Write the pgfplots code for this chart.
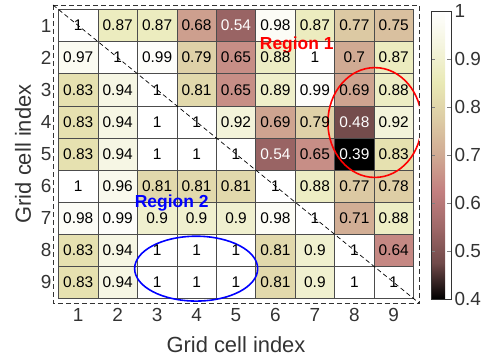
\documentclass[border=0pt]{standalone}
\usepackage{pgfplots}
\usepackage{pgfplotstable}
\pgfplotsset{compat=1.18}
\usepackage{fontspec}
\setmainfont{Liberation Sans}

\pgfplotstableread{
x y C
1 1 1
2 1 0.87
3 1 0.87
4 1 0.68
5 1 0.54
6 1 0.98
7 1 0.87
8 1 0.77
9 1 0.75
1 2 0.97
2 2 1
3 2 0.99
4 2 0.79
5 2 0.65
6 2 0.88
7 2 1
8 2 0.7
9 2 0.87
1 3 0.83
2 3 0.94
3 3 1
4 3 0.81
5 3 0.65
6 3 0.89
7 3 0.99
8 3 0.69
9 3 0.88
1 4 0.83
2 4 0.94
3 4 1
4 4 1
5 4 0.92
6 4 0.69
7 4 0.79
8 4 0.48
9 4 0.92
1 5 0.83
2 5 0.94
3 5 1
4 5 1
5 5 1
6 5 0.54
7 5 0.65
8 5 0.39
9 5 0.83
1 6 1
2 6 0.96
3 6 0.81
4 6 0.81
5 6 0.81
6 6 1
7 6 0.88
8 6 0.77
9 6 0.78
1 7 0.98
2 7 0.99
3 7 0.9
4 7 0.9
5 7 0.9
6 7 0.98
7 7 1
8 7 0.71
9 7 0.88
1 8 0.83
2 8 0.94
3 8 1
4 8 1
5 8 1
6 8 0.81
7 8 0.9
8 8 1
9 8 0.64
1 9 0.83
2 9 0.94
3 9 1
4 9 1
5 9 1
6 9 0.81
7 9 0.9
8 9 1
9 9 1
}\datatable

\begin{document}
\begin{tikzpicture}
\begin{axis}[
  name=main,
  scale only axis, width=366bp, height=298bp,
  xmin=0.36, xmax=9.64, ymin=0.36, ymax=9.64,
  y dir=reverse,
  xtick={1,...,9}, ytick={1,...,9},
  major tick length=0pt,
  axis line style={black!80, line width=0.8pt, dash pattern=on 5pt off 3pt},
  tick label style={font=\fontsize{19}{19}\selectfont, text=black!80},
  xticklabel style={yshift=-2bp},
  yticklabel style={xshift=2bp},
  xlabel={Grid cell index}, ylabel={Grid cell index},
  label style={font=\fontsize{22}{22}\selectfont, text=black!80},
  xlabel style={at={(axis description cs:0.5,0)}, anchor=center, yshift=-42bp},
  ylabel style={at={(axis description cs:0,0.5)}, anchor=center, yshift=30bp},
  /pgf/number format/assume math mode=true,
  colormap={pinkmap}{rgb=(0,0,0) rgb=(0.441,0.289,0.289) rgb=(0.624,0.408,0.408) rgb=(0.764,0.5,0.5) rgb=(0.816,0.667,0.577) rgb=(0.866,0.799,0.645) rgb=(0.913,0.913,0.707) rgb=(0.957,0.957,0.866) rgb=(1,1,1)},
  point meta min=0.4, point meta max=1,
  colorbar,
  colorbar style={
    at={(parent axis.north east)}, anchor=north west,
    xshift=3.5bp, yshift=-6bp,
    width=20bp, height=288bp,
    ytick={0.4,0.5,...,1.0},
    yticklabel style={font=\fontsize{19}{19}\selectfont, text=black!80},
    major tick length=4bp, tick align=inside,
    axis line style={black!80, line width=0.6pt, solid},
    /pgf/number format/assume math mode=true,
  },
]
\addplot[matrix plot*, mesh/cols=9, point meta=explicit, draw=black!70, line width=0.6pt]
  table[x=x, y=y, meta=C] {\datatable};
\addplot[only marks, mark=none, point meta=explicit symbolic,
  nodes near coords={\pgfmathparse{\pgfplotspointmeta<0.6}\ifdim\pgfmathresult pt>0.5pt\color{white}\fi\pgfplotspointmeta},
  every node near coord/.append style={anchor=center, font=\fontsize{15.5}{15.5}\selectfont, text=black},
] table[x=x, y=y, meta=C] {\datatable};
\draw[black, line width=0.7pt, dash pattern=on 4.5pt off 3pt] (axis cs:0.36,0.36) -- (axis cs:9.64,9.64);
\draw[red, line width=1.6pt] (axis cs:8.52,4.02) ellipse [x radius=1.19, y radius=1.71];
\draw[blue, line width=1.6pt] (axis cs:3.99,8.57) ellipse [x radius=1.56, y radius=1.01];
\node[red, font=\bfseries\fontsize{17.5}{17.5}\selectfont] at (axis cs:6.54,1.62) {Region 1};
\node[blue, font=\bfseries\fontsize{17.5}{17.5}\selectfont] at (axis cs:3.37,6.54) {Region 2};
\end{axis}
\pgfresetboundingbox
\path ([shift={(-53bp,-61bp)}]main.south west) rectangle ([shift={(63bp,5bp)}]main.north east);
\end{tikzpicture}
\end{document}
